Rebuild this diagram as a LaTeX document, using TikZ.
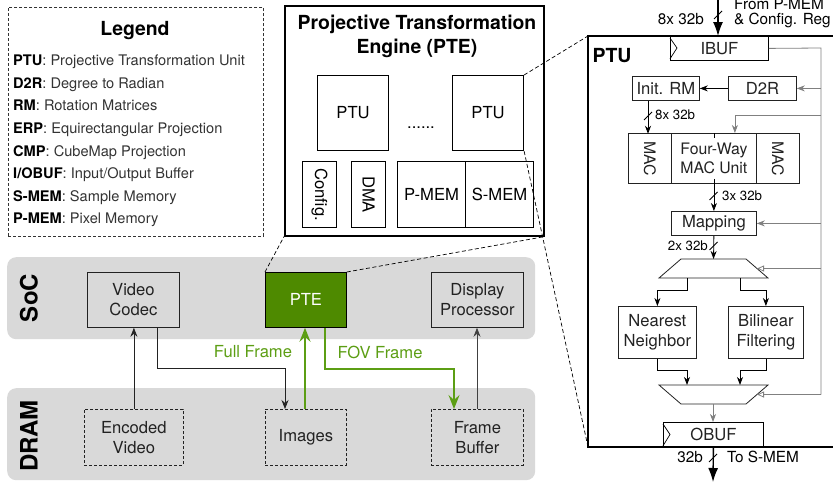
\documentclass[tikz,border=0pt]{standalone}
\usepackage{graphicx}
\usepackage{fontspec}
\setmainfont{TeX Gyre Heros}
\usetikzlibrary{arrows.meta,calc}
\definecolor{band}{RGB}{217,217,217}
\definecolor{grnfill}{RGB}{78,138,0}
\definecolor{grn}{RGB}{92,158,20}
\definecolor{bus}{RGB}{128,128,128}
\definecolor{txt}{RGB}{34,34,34}
\definecolor{legtxt}{RGB}{51,51,51}
\newcommand\fntbox{\fontsize{16.6}{20}\selectfont}
\newcommand\fntmac{\fontsize{15.8}{19}\selectfont}
\newcommand\fntleg{\fontsize{14.6}{17}\selectfont}
\newcommand\fnttitle{\fontsize{19.4}{24}\selectfont\bfseries}
\newcommand\fntsmall{\fontsize{13.3}{15}\selectfont}
\newcommand\fntlab{\fontsize{15.3}{16}\selectfont}
\newcommand\fntband{\fontsize{24}{28}\selectfont\bfseries}
\begin{document}
\begin{tikzpicture}[x=1pt,y=-1pt, line join=miter,
  box/.style={draw=txt, line width=0.8pt, inner sep=0pt, anchor=north west, align=center, font=\fntbox, text=txt},
  dbox/.style={box, dash pattern=on 3pt off 2pt},
  pbox/.style={box, draw=black, text=black, line width=1.1pt},
  arr/.style={-{Stealth[length=9pt,width=7pt,inset=3pt]}, line width=0.7pt, draw=txt},
  garr/.style={-{Stealth[length=14pt,width=11pt,inset=5pt]}, line width=1.8pt, draw=grn},
  sarr/.style={-{Stealth[length=8pt,width=6pt,inset=2.5pt]}, line width=0.8pt, draw=black},
  barr/.style={-{Stealth[length=8pt,width=6pt,inset=2.5pt]}, line width=0.8pt, draw=bus},
  oarr/.style={-{Triangle[open,length=7pt,width=6pt]}, line width=0.8pt, draw=bus},
  bigarr/.style={-{Latex[length=14pt,width=10pt]}, line width=1.4pt, draw=black},
  zoomline/.style={draw=black, line width=0.7pt, dash pattern=on 4pt off 2.5pt},
  muxshape/.style={draw=txt, line width=0.8pt},
  busslash/.pic={\draw[line width=0.8pt] (-4,4) -- (4,-4);},
]
\useasboundingbox (0,0) rectangle (833,482);
\clip (0,0) rectangle (833,482);

% ---------------- Legend ----------------
\node[draw=black!80, dash pattern=on 3pt off 2pt, line width=0.8pt, anchor=north west,
      minimum width=255, minimum height=229, inner sep=0pt] (legend) at (8,7) {};
\node[font=\fnttitle, anchor=base] (legtitle) at (135,35) {Legend};
\node[anchor=base west, font=\fntleg, text=legtxt, inner sep=0pt] (leg1) at (13,65) {\textcolor{black}{\textbf{PTU}}: Projective Transformation Unit};
\node[anchor=base west, font=\fntleg, text=legtxt, inner sep=0pt] (leg2) at (13,88) {\textcolor{black}{\textbf{D2R}}: Degree to Radian};
\node[anchor=base west, font=\fntleg, text=legtxt, inner sep=0pt] (leg3) at (13,110) {\textcolor{black}{\textbf{RM}}: Rotation Matrices};
\node[anchor=base west, font=\fntleg, text=legtxt, inner sep=0pt] (leg4) at (13,133) {\textcolor{black}{\textbf{ERP}}: Equirectangular Projection};
\node[anchor=base west, font=\fntleg, text=legtxt, inner sep=0pt] (leg5) at (13,156) {\textcolor{black}{\textbf{CMP}}: CubeMap Projection};
\node[anchor=base west, font=\fntleg, text=legtxt, inner sep=0pt] (leg6) at (13,178) {\textcolor{black}{\textbf{I/OBUF}}: Input/Output Buffer};
\node[anchor=base west, font=\fntleg, text=legtxt, inner sep=0pt] (leg7) at (13,201) {\textcolor{black}{\textbf{S-MEM}}: Sample Memory};
\node[anchor=base west, font=\fntleg, text=legtxt, inner sep=0pt] (leg8) at (13,223) {\textcolor{black}{\textbf{P-MEM}}: Pixel Memory};

% ---------------- PTE detail ----------------
\node[draw=black, line width=1.6pt, anchor=north west, minimum width=259, minimum height=230, inner sep=0pt] (pteBox) at (284,5) {};
\node[font=\fnttitle, anchor=base] (pteT1) at (417,29) {Projective Transformation};
\node[font=\fnttitle, anchor=base] (pteT2) at (417,53) {Engine (PTE)};
\node[pbox, minimum width=71, minimum height=75] (ptuA) at (317,75) {PTU};
\node[pbox, minimum width=71, minimum height=75] (ptuB) at (452,75) {PTU};
\node[font=\fntbox, anchor=base, inner sep=0pt] (dots) at (421,128) {......};
\node[pbox, minimum width=34, minimum height=66] (cfg) at (302,161) {\rotatebox{-90}{Config.}};
\node[pbox, minimum width=34, minimum height=66] (dma) at (351,161) {\rotatebox{-90}{DMA}};
\node[pbox, minimum width=68, minimum height=66] (pmem) at (397,161) {P-MEM};
\node[pbox, minimum width=68, minimum height=66] (smem) at (465,161) {S-MEM};

% ---------------- SoC / DRAM ----------------
\node[fill=band, rounded corners=9pt, anchor=north west, minimum width=528, minimum height=82, inner sep=0pt] (soc) at (7,257) {};
\node[fill=band, rounded corners=9pt, anchor=north west, minimum width=528, minimum height=92, inner sep=0pt] (dram) at (7,388) {};
\node[font=\fntband, rotate=90] (socl) at (29,298) {SoC};
\node[font=\fntband, rotate=90] (draml) at (29,436) {DRAM};

\node[box, minimum width=92, minimum height=55] (vc) at (87,272) {Video\\Codec};
\node[box, draw=black, fill=grnfill, text=white, minimum width=81, minimum height=55] (pte) at (265,272) {PTE};
\node[box, minimum width=92, minimum height=55] (dp) at (431,272) {Display\\Processor};
\node[dbox, minimum width=99, minimum height=56] (ev) at (84,409) {Encoded\\Video};
\node[dbox, minimum width=81, minimum height=56] (im) at (265,409) {Images};
\node[dbox, minimum width=92, minimum height=56] (fb) at (431,409) {Frame\\Buffer};

\draw[arr] (ev.north) -- (ev.north |- vc.south);
\draw[arr] ([xshift=70pt]vc.south west) -- ++(0,41) -| ([xshift=20pt]im.north west);
\draw[garr] ([xshift=40pt]im.north west) -- ([xshift=40pt]pte.south west);
\draw[garr] ([xshift=60pt]pte.south west) -- ++(0,41) -| ([xshift=23pt]fb.north west);
\draw[arr, draw=black!75] ([xshift=46pt]fb.north west) -- ([xshift=46pt]dp.south west);
\node[font=\fntbox, text=grn] (fullf) at (253,352) {Full Frame};
\node[font=\fntbox, text=grn] (fovf) at (380,352) {FOV Frame};

% ---------------- zoom lines ----------------
\coordinate (ptuTL) at (588,36);
\coordinate (ptuBL) at (588,447);
\draw[zoomline] (pte.north west) -- (pteBox.south west);
\draw[zoomline] (pte.north east) -- (pteBox.south east);
\draw[zoomline] (ptuB.north east) -- (ptuTL);
\draw[zoomline] (ptuB.south east) -- (ptuBL);

% ---------------- PTU detail ----------------
\draw[line width=2pt] (850,36) -- (ptuTL) -- (ptuBL) -- (850,447);
\node[font=\fnttitle, anchor=base] (ptuT) at (612,62) {PTU};

\node[box, draw=black, minimum width=98, minimum height=24] (ibuf) at (670,36) {IBUF};
\draw[line width=0.7pt] ([yshift=-2pt]ibuf.north west) -- ++(7,10) -- ([yshift=2pt]ibuf.south west);
\coordinate (inTop) at (718,0);
\draw[bigarr] (inTop) -- (inTop |- ibuf.north);
\path (718,15) pic {busslash};
\node[font=\fntlab, anchor=east, inner sep=0pt] (inlab) at (704,19) {8x 32b};
\node[font=\fntlab, anchor=west, inner sep=0pt] (from1) at (734,4) {From P-MEM};
\node[font=\fntlab, anchor=west, inner sep=0pt] (from2) at (734,20) {\& Config. Reg};

\coordinate (busTop) at (821,48);
\coordinate (busBot) at (821,394.5);
\draw[draw=bus, line width=0.8pt] (ibuf.east) -- (busTop) -- (busBot);

\node[box, minimum width=67, minimum height=24] (irm) at (632,76) {Init. RM};
\node[box, minimum width=68, minimum height=24] (d2r) at (728,76) {D2R};
\draw[sarr] (d2r.west) -- (irm.east);
\draw[barr] (busTop |- d2r.east) -- (d2r.east);

\node[box, font=\fntmac, minimum width=43, minimum height=50] (mac1) at (628,133) {\rotatebox{-90}{MAC}};
\node[box, font=\fntmac, minimum width=85, minimum height=50] (macu) at (671,133) {Four-Way\\MAC Unit};
\node[box, font=\fntmac, minimum width=43, minimum height=50] (mac2) at (756,133) {\rotatebox{-90}{MAC}};
\draw[line width=0.7pt] (macu.north) -- ++(0,5);
\coordinate (br1) at (821,115);
\draw[barr] (br1) -| ([xshift=21pt]macu.north);
\draw[sarr] ([xshift=16pt]irm.south west) -- ++(0,33);
\path (648,116) pic {busslash};
\node[font=\fntsmall, anchor=west, inner sep=0pt] (l8x) at (655,115) {8x 32b};

\node[box, minimum width=85, minimum height=24] (map) at (671,211) {Mapping};
\draw[sarr] ([yshift=5pt]macu.south) -- (map.north);
\path (713.5,196) pic {busslash};
\node[font=\fntsmall, anchor=west, inner sep=0pt] (l3x) at (722,196) {3x 32b};
\draw[barr] (busTop |- map.east) -- (map.east);

% top mux
\coordinate (muxAtop) at (713.5,259);
\draw[muxshape] (681,259) -- (746,259) -- (768,278) -- (659,278) -- cycle;
\draw[sarr] (map.south) -- (muxAtop);
\path (713.5,246) pic {busslash};
\node[font=\fntsmall, anchor=east, inner sep=0pt] (l2x) at (708,246) {2x 32b};
\coordinate (muxAr) at (757,268.5);
\draw[oarr] (busTop |- muxAr) -- (muxAr);

\node[box, minimum width=78, minimum height=52] (nn) at (618,306) {Nearest\\Neighbor};
\node[box, minimum width=75, minimum height=52] (bf) at (728,306) {Bilinear\\Filtering};
\coordinate (muxAo1) at (687,278);
\coordinate (muxAo2) at (740,278);
\draw[sarr] (muxAo1) -- ++(0,12) -| (nn.north);
\draw[sarr] (muxAo2) -- ++(0,12) -| (bf.north);

% bottom mux
\coordinate (muxBi1) at (687,385);
\coordinate (muxBi2) at (740,385);
\draw[muxshape] (659,385) -- (768,385) -- (746,404) -- (681,404) -- cycle;
\draw[sarr] (nn.south) -- ++(0,12) -| (muxBi1);
\draw[sarr] (bf.south) -- ++(0,12) -| (muxBi2);
\coordinate (muxBr) at (757,394.5);
\draw[oarr] (busBot) -- (muxBr);
\coordinate (muxBo) at (713,404);

\node[box, draw=black, minimum width=100, minimum height=25] (obuf) at (663,422) {OBUF};
\draw[line width=0.7pt] ([yshift=-2pt]obuf.north west) -- ++(7,10.5) -- ([yshift=2pt]obuf.south west);
\draw[barr] (muxBo) -- (muxBo |- obuf.north);
\coordinate (outBot) at (713,482);
\draw[bigarr] (obuf.south) -- (outBot);
\path (713,458) pic {busslash};
\node[font=\fntlab, anchor=east, inner sep=0pt] (l32) at (703,457) {32b};
\node[font=\fntlab, anchor=west, inner sep=0pt] (tos) at (727,457) {To S-MEM};
\end{tikzpicture}
\end{document}
